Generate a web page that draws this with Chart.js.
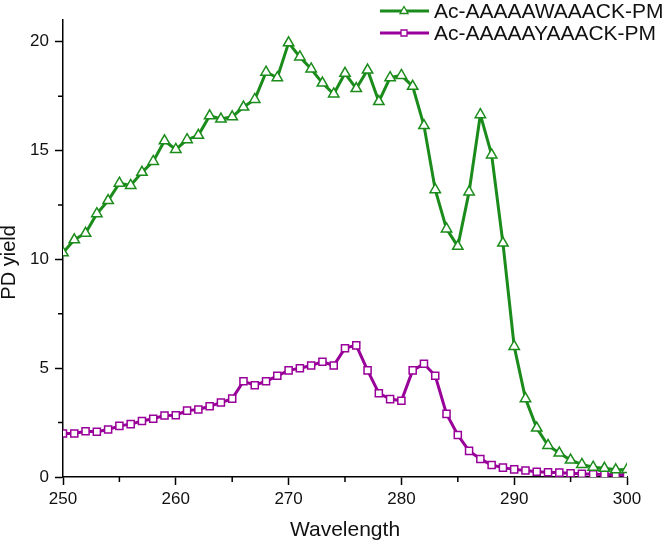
<!DOCTYPE html>
<html>
<head>
<meta charset="utf-8">
<script src="https://cdn.jsdelivr.net/npm/chart.js@4/dist/chart.umd.min.js"></script>
<style>
  html, body { margin: 0; padding: 0; background: #fff; }
  #wrap { width: 666px; height: 543px; }
</style>
</head>
<body>
<div id="wrap"><canvas id="c" width="666" height="543"></canvas></div>
<script>
// ---- data ----
const wavelengths = [250,251,252,253,254,255,256,257,258,259,260,261,262,263,264,265,266,267,268,269,270,271,272,273,274,275,276,277,278,279,280,281,282,283,284,285,286,287,288,289,290,291,292,293,294,295,296,297,298,299,300];
const seriesW = [10.3,10.9,11.2,12.1,12.7,13.5,13.4,14.0,14.5,15.45,15.05,15.5,15.7,16.6,16.45,16.55,17.0,17.35,18.6,18.35,19.95,19.3,18.75,18.1,17.6,18.55,17.85,18.7,17.25,18.35,18.45,17.95,16.15,13.2,11.4,10.6,13.1,16.65,14.8,10.75,6.0,3.6,2.25,1.45,1.1,0.78,0.58,0.45,0.4,0.33,0.35];
const seriesY = [2.0,2.0,2.1,2.08,2.18,2.35,2.43,2.57,2.68,2.83,2.84,3.05,3.1,3.25,3.42,3.6,4.4,4.22,4.4,4.65,4.9,5.0,5.12,5.3,5.12,5.92,6.05,4.9,3.85,3.58,3.5,4.9,5.2,4.65,2.9,1.93,1.2,0.83,0.55,0.43,0.35,0.3,0.24,0.22,0.2,0.17,0.15,0.13,0.12,0.1,0.1];
const seriesLabels = ['Ac-AAAAAWAAACK-PM', 'Ac-AAAAAYAAACK-PM'];
const xMajorTicks = [250,260,270,280,290,300];
const xMinorTicks = [255,265,275,285,295];
const yMajorTicks = [0,5,10,15,20];
const yMinorTicks = [2.5,7.5,12.5,17.5];

const GREEN = '#1b8c1b';
const PURPLE = '#990099';
const tickFont = { family: '"Liberation Sans Narrow", "Liberation Sans", Arial, sans-serif', size: 17 };

function pts(vals) { return wavelengths.map((w, i) => ({ x: w, y: vals[i] })); }

const minorTicksPlugin = {
  id: 'minorTicks',
  afterDraw(chart) {
    const ctx = chart.ctx, xs = chart.scales.x, ys = chart.scales.y;
    ctx.save();
    ctx.strokeStyle = '#000';
    ctx.lineWidth = 1.5;
    ctx.beginPath();
    xMinorTicks.forEach(v => {
      const px = xs.getPixelForValue(v);
      ctx.moveTo(px, ys.bottom); ctx.lineTo(px, ys.bottom + 5);
    });
    yMinorTicks.forEach(v => {
      const py = ys.getPixelForValue(v);
      ctx.moveTo(xs.left, py); ctx.lineTo(xs.left - 5, py);
    });
    ctx.stroke();
    ctx.restore();
  }
};

const legendPlugin = {
  id: 'customLegend',
  afterDraw(chart) {
    const ctx = chart.ctx;
    const rows = [11, 33];
    ctx.save();
    chart.data.datasets.forEach((ds, i) => {
      const y = rows[i];
      ctx.strokeStyle = ds.borderColor;
      ctx.lineWidth = 3;
      ctx.beginPath(); ctx.moveTo(380, y); ctx.lineTo(429, y); ctx.stroke();
      ctx.fillStyle = '#fff';
      ctx.lineWidth = 1.3;
      const cx = 404;
      ctx.beginPath();
      if (ds.pointStyle === 'triangle') {
        ctx.moveTo(cx, y - 4.5); ctx.lineTo(cx + 4, y + 2.5); ctx.lineTo(cx - 4, y + 2.5); ctx.closePath();
      } else {
        ctx.rect(cx - 3, y - 3, 6, 6);
      }
      ctx.fill(); ctx.stroke();
      ctx.fillStyle = '#111';
      ctx.font = '21px "Liberation Sans", Arial, sans-serif';
      ctx.textBaseline = 'middle';
      ctx.textAlign = 'left';
      ctx.fillText(ds.label, 434, y + 1);
    });
    ctx.restore();
  }
};

new Chart(document.getElementById('c'), {
  type: 'line',
  data: {
    datasets: [
      { label: seriesLabels[0], data: pts(seriesW), borderColor: GREEN, backgroundColor: '#fff',
        borderWidth: 3, pointStyle: 'triangle', pointRadius: 6, pointBorderWidth: 1.5,
        pointBackgroundColor: '#fff', pointBorderColor: GREEN, tension: 0 },
      { label: seriesLabels[1], data: pts(seriesY), borderColor: PURPLE, backgroundColor: '#fff',
        borderWidth: 3, pointStyle: 'rect', pointRadius: 5, pointBorderWidth: 1.5,
        pointBackgroundColor: '#fff', pointBorderColor: PURPLE, tension: 0 }
    ]
  },
  options: {
    responsive: false,
    animation: false,
    devicePixelRatio: 1,
    layout: { padding: { top: 20, right: 39, left: 0, bottom: 0 } },
    plugins: { legend: { display: false }, tooltip: { enabled: false } },
    scales: {
      x: {
        type: 'linear', min: 250, max: 300,
        afterBuildTicks(s) { s.ticks = xMajorTicks.map(v => ({ value: v })); },
        afterFit(s) { s.height = 66; },
        grid: { display: true, drawOnChartArea: false, drawTicks: true, tickLength: 8, tickColor: '#000', tickWidth: 1.5 },
        border: { display: true, color: '#000', width: 1.5 },
        ticks: { color: '#111', font: tickFont, padding: 4, maxRotation: 0 },
        title: { display: true, text: 'Wavelength', color: '#111',
                 font: { family: '"Liberation Sans Narrow", "Liberation Sans", Arial, sans-serif', size: 21 },
                 padding: { top: 0, bottom: 0 } }
      },
      y: {
        type: 'linear', min: 0, max: 21,
        afterBuildTicks(s) { s.ticks = yMajorTicks.map(v => ({ value: v })); },
        afterFit(s) { s.width = 63; },
        grid: { display: true, drawOnChartArea: false, drawTicks: true, tickLength: 8, tickColor: '#000', tickWidth: 1.5 },
        border: { display: true, color: '#000', width: 1.5 },
        ticks: { color: '#111', font: tickFont, padding: 6 },
        title: { display: true, text: 'PD yield\u00a0\u00a0\u00a0\u00a0\u00a0', color: '#111',
                 font: { family: '"Liberation Sans", Arial, sans-serif', size: 20, lineHeight: 0.9 },
                 padding: { top: 0, bottom: 0 } }
      }
    }
  },
  plugins: [minorTicksPlugin, legendPlugin]
});
</script>
</body>
</html>
